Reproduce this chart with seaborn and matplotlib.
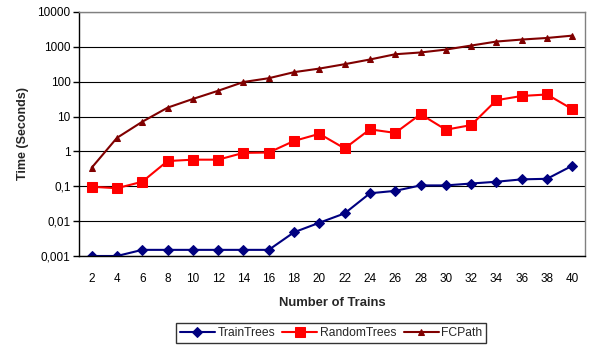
import matplotlib
matplotlib.use("Agg")
import matplotlib.pyplot as plt
import seaborn as sns
import pandas as pd
from matplotlib.ticker import FixedLocator, FuncFormatter, NullLocator

trains = [2, 4, 6, 8, 10, 12, 14, 16, 18, 20, 22, 24, 26, 28, 30, 32, 34, 36, 38, 40]
train_trees = [0.001, 0.001, 0.0015, 0.0015, 0.0015, 0.0015, 0.0015, 0.0015, 0.0048, 0.009,
               0.0167, 0.063, 0.074, 0.106, 0.106, 0.12, 0.135, 0.158, 0.164, 0.39]
random_trees = [0.097, 0.088, 0.135, 0.53, 0.58, 0.58, 0.91, 0.93, 2.0, 3.2,
                1.22, 4.3, 3.4, 11.7, 4.2, 5.7, 29.5, 39, 43, 16.3]
fc_path = [0.34, 2.45, 7.1, 18, 32, 55, 98, 126, 188, 238,
           318, 434, 614, 690, 835, 1090, 1420, 1620, 1800, 2100]
series_names = ["TrainTrees", "RandomTrees", "FCPath"]
y_ticks = [0.001, 0.01, 0.1, 1, 10, 100, 1000, 10000]
y_tick_labels = ["0,001", "0,01", "0,1", "1", "10", "100", "1000", "10000"]

df = pd.DataFrame({
    "trains": trains * 3,
    "time": train_trees + random_trees + fc_path,
    "series": [series_names[0]] * len(trains) + [series_names[1]] * len(trains) + [series_names[2]] * len(trains),
})

sns.set_style("white")
plt.rcParams["font.family"] = ["Liberation Sans", "DejaVu Sans"]

fig = plt.figure(figsize=(5.95, 3.5), dpi=100)
ax = fig.add_axes([79/595, 1-256/350, (585-79)/595, (256-12)/350])

palette = {"TrainTrees": "#000080", "RandomTrees": "#FF0000", "FCPath": "#800000"}
markers = {"TrainTrees": "D", "RandomTrees": "s", "FCPath": "^"}
sizes = {"TrainTrees": 5.5, "RandomTrees": 7, "FCPath": 5}

for name in series_names:
    sub = df[df["series"] == name]
    sns.lineplot(data=sub, x="trains", y="time", color=palette[name], marker=markers[name],
                 markersize=sizes[name], markeredgecolor=palette[name], linewidth=1.5,
                 label=name, ax=ax, legend=False)

ax.set_yscale("log")
ax.set_ylim(0.001, 10000)
ax.set_xlim(1, 41)
ax.yaxis.set_major_locator(FixedLocator(y_ticks))
ax.yaxis.set_minor_locator(NullLocator())
ax.yaxis.set_major_formatter(FuncFormatter(lambda v, p: y_tick_labels[y_ticks.index(min(y_ticks, key=lambda t: abs(t - v)))]))
ax.set_xticks(trains)
ax.set_xticklabels([str(t) for t in trains])
ax.tick_params(axis="both", labelsize=8.5, colors="black")
ax.tick_params(axis="y", length=4, width=1, direction="out", left=True, pad=2)
ax.tick_params(axis="x", length=0, pad=12)

ax.grid(axis="y", color="black", linewidth=0.8)
ax.set_axisbelow(True)
for s in ["top", "right"]:
    ax.spines[s].set_color("#808080")
    ax.spines[s].set_linewidth(1)
for s in ["left", "bottom"]:
    ax.spines[s].set_color("black")
    ax.spines[s].set_linewidth(1)

ax.set_xlabel("Number of Trains", fontsize=9.4, fontweight="bold", labelpad=9)
ax.set_ylabel("Time (Seconds)", fontsize=9, fontweight="bold", labelpad=6)

handles, labels = ax.get_legend_handles_labels()
leg = fig.legend(handles, labels, loc="center", bbox_to_anchor=(331/595, 1-333/350), ncol=3,
                 fontsize=8.7, frameon=True, fancybox=False, edgecolor="black",
                 handlelength=2.9, columnspacing=0.6, handletextpad=0.2, borderpad=0.35)
leg.get_frame().set_linewidth(1)

fig.savefig("out.png", dpi=100)
